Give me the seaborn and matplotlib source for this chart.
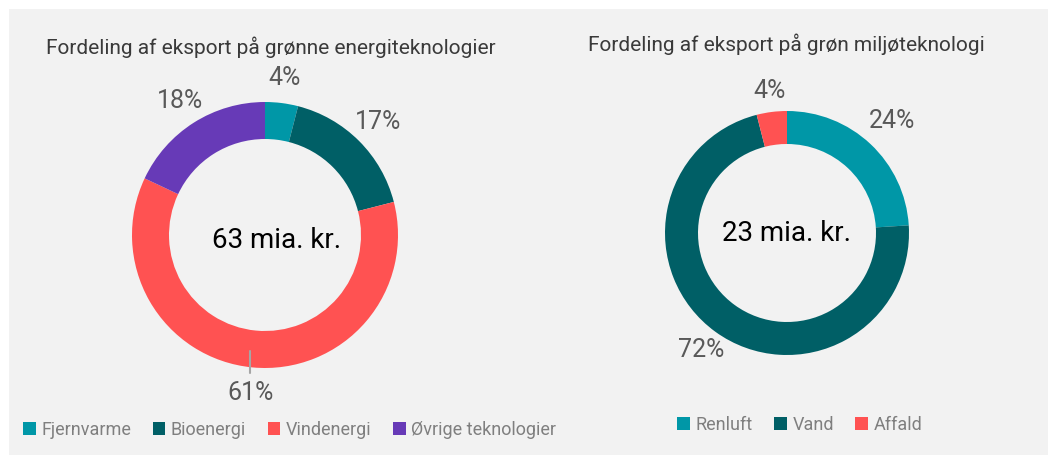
import matplotlib
matplotlib.use("Agg")
import matplotlib.pyplot as plt
from matplotlib.patches import Rectangle, Patch
import numpy as np
import seaborn as sns

sns.set_theme(style="white")
plt.rcParams['font.family'] = ['Roboto', 'DejaVu Sans']

# ---- data ----
left_title = "Fordeling af eksport på grønne energiteknologier"
left_labels = ["Fjernvarme", "Bioenergi", "Vindenergi", "Øvrige teknologier"]
left_values = [4, 17, 61, 18]
left_total = "63 mia. kr."

right_title = "Fordeling af eksport på grøn miljøteknologi"
right_labels = ["Renluft", "Vand", "Affald"]
right_values = [24, 72, 4]
right_total = "23 mia. kr."

TEAL = "#0097a7"
DARK = "#005f66"
RED = "#ff5252"
PURPLE = "#673ab7"
left_colors = [TEAL, DARK, RED, PURPLE]
right_colors = [TEAL, DARK, RED]

W, H = 1048, 455
fig = plt.figure(figsize=(W / 100, H / 100), dpi=100)
fig.patch.set_facecolor("white")
fig.add_artist(Rectangle((9 / W, 0), 1 - 9 / W, 1 - 9 / H, transform=fig.transFigure,
                         facecolor="#f2f2f2", edgecolor="none", zorder=-10))


def donut(cx, cy_top, R, ring, values, colors, label_r, leader_idx=None):
    cy = H - cy_top
    half = 1.5 * R
    ax = fig.add_axes([(cx - half) / W, (cy - half) / H, 2 * half / W, 2 * half / H])
    ax.set_facecolor("none")
    wedges, _ = ax.pie(values, colors=colors, startangle=90, counterclock=False,
                       radius=1.0, wedgeprops=dict(width=ring / R, linewidth=0))
    ax.set_xlim(-1.5, 1.5)
    ax.set_ylim(-1.5, 1.5)
    ax.set_aspect("equal")
    ax.axis("off")
    for i, w in enumerate(wedges):
        ang = np.deg2rad((w.theta1 + w.theta2) / 2)
        r = label_r[i]
        ax.text(r * np.cos(ang), r * np.sin(ang), f"{values[i]}%", ha="center", va="center",
                fontsize=18, color="#595959")
        if leader_idx == i:
            x = r * np.cos(ang)
            ax.plot([x, x], [-0.875, -1.04], color="#a6a6a6", lw=1.5)
    return ax


donut(265, 235, 133, 37, left_values, left_colors, [1.19, 1.20, 1.19, 1.19], leader_idx=2)
donut(787, 233, 122, 33, right_values, right_colors, [1.26, 1.19, 1.17])

fig.text(271 / W, 1 - 47 / H, left_title, ha="center", va="center", fontsize=15,
         color="#3a3a3a")
fig.text(786 / W, 1 - 44 / H, right_title, ha="center", va="center", fontsize=15,
         color="#3a3a3a")
fig.text(277 / W, 1 - 240 / H, left_total, ha="center", va="center", fontsize=20, color="black")
fig.text(786 / W, 1 - 234 / H, right_total, ha="center", va="center", fontsize=20, color="black")

lh = [Patch(facecolor=c, edgecolor="none") for c in left_colors]
leg1 = fig.legend(lh, left_labels, loc="center left", bbox_to_anchor=(7 / W, 1 - 430 / H),
                  ncol=4, frameon=False, handlelength=0.7, handleheight=0.7,
                  handletextpad=0.3, columnspacing=1.2, labelcolor="#7f7f7f",
                  prop={'size': 13})
rh = [Patch(facecolor=c, edgecolor="none") for c in right_colors]
leg2 = fig.legend(rh, right_labels, loc="center left", bbox_to_anchor=(661 / W, 1 - 425 / H),
                  ncol=3, frameon=False, handlelength=0.7, handleheight=0.7,
                  handletextpad=0.3, columnspacing=1.2, labelcolor="#7f7f7f",
                  prop={'size': 13})

fig.savefig("out.png", dpi=100, facecolor=fig.get_facecolor())
